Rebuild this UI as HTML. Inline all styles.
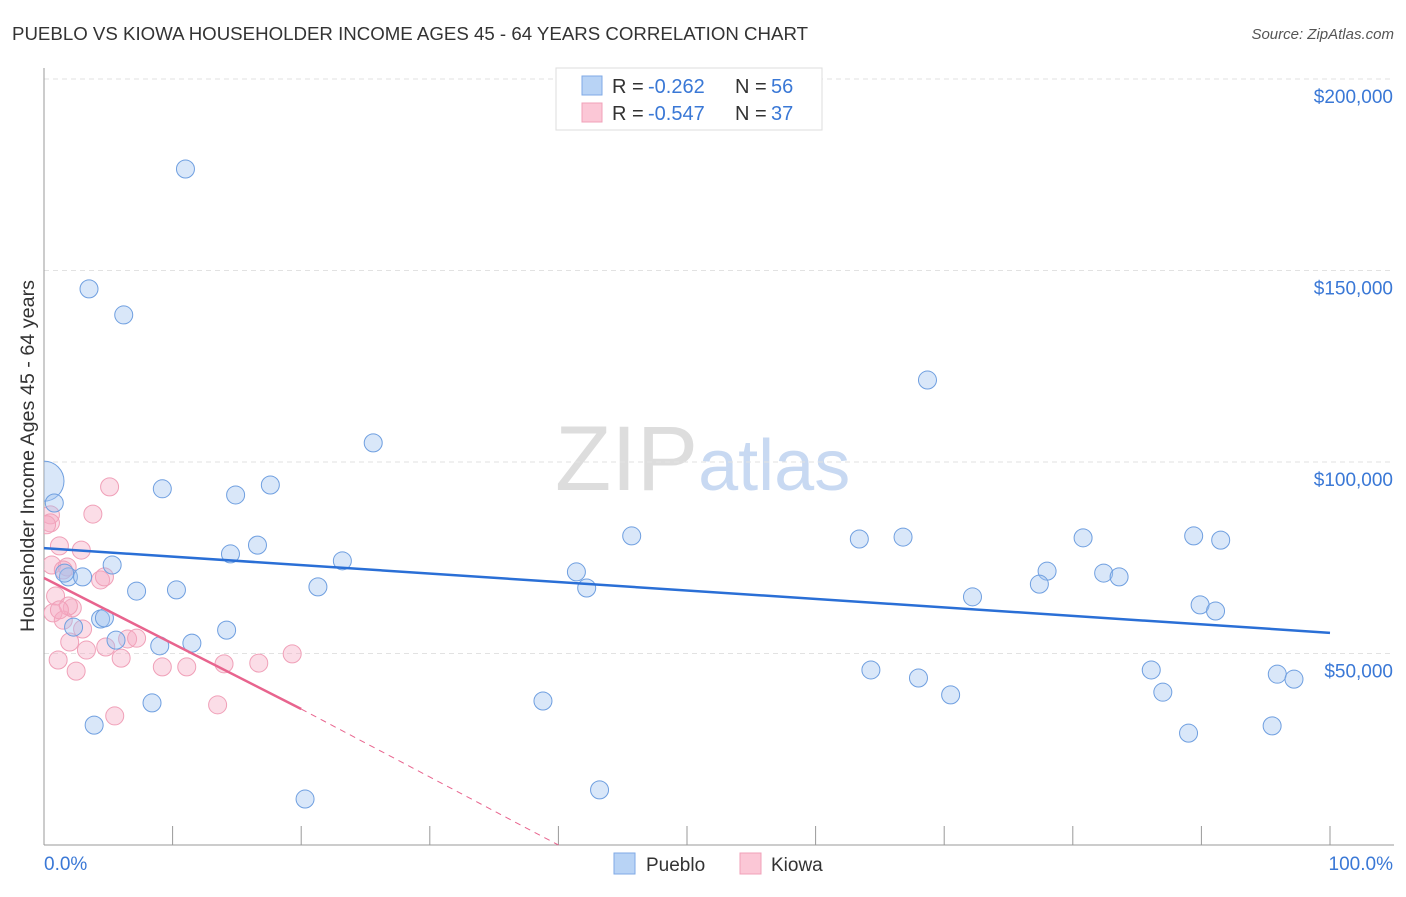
<!DOCTYPE html>
<html><head><meta charset="utf-8"><style>
body{margin:0;background:#fff;font-family:"Liberation Sans",sans-serif}
svg text{font-family:"Liberation Sans",sans-serif}
</style></head><body>
<svg id="chart" width="1406" height="892" xmlns="http://www.w3.org/2000/svg">
<defs><clipPath id="plotclip"><rect x="44" y="60" width="1360" height="785"/></clipPath></defs>
<text x="12" y="40" font-size="18" fill="#333" textLength="796" lengthAdjust="spacingAndGlyphs">PUEBLO VS KIOWA HOUSEHOLDER INCOME AGES 45 - 64 YEARS CORRELATION CHART</text>
<text x="1394" y="39" font-size="15" fill="#555" font-style="italic" text-anchor="end">Source: ZipAtlas.com</text>
<text x="555" y="490" font-size="92" fill="#ddd" font-family="Liberation Serif">ZIP<tspan fill="#c8d9f2" font-family="Liberation Sans" font-size="72">atlas</tspan></text>
<g id="grid"></g><g id="axes"></g><g id="pts" clip-path="url(#plotclip)"></g><g id="trend"></g>
<text transform="translate(34,456) rotate(-90)" font-size="19" fill="#333" text-anchor="middle" textLength="352" lengthAdjust="spacingAndGlyphs">Householder Income Ages 45 - 64 years</text>
<text x="44" y="870" font-size="19" fill="#3a78d6">0.0%</text>
<text x="1393" y="870" font-size="19" fill="#3a78d6" text-anchor="end">100.0%</text>
<g>
<rect x="556" y="68" width="266" height="62" fill="#fff" stroke="#ddd"/>
<rect x="582" y="76" width="20" height="19" fill="#b8d3f5" stroke="#7fa9e6"/>
<rect x="582" y="103" width="20" height="19" fill="#fbc7d6" stroke="#f0a0b8"/>
<text x="612" y="93" font-size="20" fill="#333">R =</text>
<text x="648" y="93" font-size="20" fill="#3a78d6">-0.262</text>
<text x="735" y="93" font-size="20" fill="#333">N =</text>
<text x="771" y="93" font-size="20" fill="#3a78d6">56</text>
<text x="612" y="120" font-size="20" fill="#333">R =</text>
<text x="648" y="120" font-size="20" fill="#3a78d6">-0.547</text>
<text x="735" y="120" font-size="20" fill="#333">N =</text>
<text x="771" y="120" font-size="20" fill="#3a78d6">37</text>
</g>
<g>
<rect x="614" y="853" width="21" height="21" fill="#b8d3f5" stroke="#7fa9e6"/>
<text x="646" y="871" font-size="19" fill="#333">Pueblo</text>
<rect x="740" y="853" width="21" height="21" fill="#fbc7d6" stroke="#f0a0b8"/>
<text x="771" y="871" font-size="19" fill="#333">Kiowa</text>
</g>
</svg>
<script>
const yTicks=[50000,100000,150000,200000];
const yTickLabels=["$50,000","$100,000","$150,000","$200,000"];
const puebloX=[0,0.8,11.0,3.5,6.2,25.6,68.7,9.2,14.9,17.6,1.9,3.0,5.3,14.5,16.6,23.2,7.2,10.3,21.3,4.4,4.7,2.3,5.6,9.0,11.5,14.2,8.4,3.9,20.3,38.8,43.2,45.7,41.4,42.2,63.4,66.8,72.2,78.0,77.4,80.8,82.4,83.6,89.4,91.5,89.9,91.1,64.3,68.0,70.5,86.1,87.0,89.0,95.9,97.2,95.5,1.6];
const puebloY=[95.0,89.3,176.5,145.2,138.4,105.0,121.4,93.0,91.4,94.0,70.0,70.0,73.1,76.0,78.3,74.2,66.3,66.6,67.4,59.0,59.3,56.9,53.5,52.0,52.7,56.1,37.1,31.3,12.0,37.6,14.4,80.7,71.3,67.1,79.9,80.4,64.8,71.5,68.1,80.2,71.0,70.0,80.7,79.6,62.7,61.1,45.7,43.6,39.2,45.7,39.9,29.2,44.6,43.3,31.1,71.0];
const kiowaX=[5.1,3.8,0.5,0.5,1.2,2.9,0.6,1.8,1.5,4.4,4.7,0.9,0.7,2.2,1.5,3.0,2.0,3.3,4.8,6.0,1.1,2.5,6.5,7.2,9.2,11.1,14.0,16.7,19.3,13.5,5.5,1.9,1.2,0.2];
const kiowaY=[93.5,86.4,86.2,84.1,78.1,77.0,73.1,72.6,71.8,69.2,70.0,65.0,60.6,61.9,58.7,56.4,53.0,50.9,51.7,48.8,48.3,45.4,53.8,54.0,46.5,46.5,47.3,47.5,49.9,36.6,33.7,62.4,61.4,83.6];
const puebloTrend=[77.5,55.4];
const kiowaTrend=[69.7,35.5,0];
const NS="http://www.w3.org/2000/svg";
const X=p=>44+p*12.86, Y=k=>845-k*1000*0.00383;
function mk(tag,attrs,parent){const e=document.createElementNS(NS,tag);for(const k in attrs)e.setAttribute(k,attrs[k]);document.getElementById(parent).appendChild(e);return e;}
yTicks.forEach((t,i)=>{
 const l=mk('line',{x1:44,x2:1394,y1:Y(t/1000),y2:Y(t/1000),stroke:'#e2e2e2','stroke-dasharray':'5,4'},'grid');
 
 
 const tx=mk('text',{x:1393,y:Y(t/1000)+24,'font-size':19,fill:'#3a78d6','text-anchor':'end'},'grid');
 tx.textContent=yTickLabels[i];
 
 
});
const ax=mk('line',{x1:44,x2:44,y1:68,y2:845,stroke:'#999'},'axes');


const bx=mk('line',{x1:44,x2:1394,y1:845,y2:845,stroke:'#999'},'axes');


for(let i=0;i<=10;i++){const t=mk('line',{x1:X(i*10),x2:X(i*10),y1:826,y2:845,stroke:'#999'},'axes');
 
 }
kiowaX.forEach((x,i)=>{const c=mk('circle',{cx:X(x),cy:Y(kiowaY[i]),r:9,fill:'rgba(246,170,195,0.4)',stroke:'#f0a0b8'},'pts');
 
 });
puebloX.forEach((x,i)=>{const c=mk('circle',{cx:X(x),cy:Y(puebloY[i]),r:i===0?20:9,fill:'rgba(160,196,240,0.4)',stroke:'#6f9fe0'},'pts');
 
 });
const pt=mk('line',{x1:X(0),y1:Y(puebloTrend[0]),x2:X(100),y2:Y(puebloTrend[1]),stroke:'#2a6fd6','stroke-width':2.5},'trend');


const kt=mk('line',{x1:X(0),y1:Y(kiowaTrend[0]),x2:X(20),y2:Y(kiowaTrend[1]),stroke:'#e8648e','stroke-width':2.5},'trend');


const kd=mk('line',{x1:X(20),y1:Y(kiowaTrend[1]),x2:X(40),y2:Y(kiowaTrend[2]),stroke:'#e8648e','stroke-width':1,'stroke-dasharray':'6,5'},'trend');


</script>
</body></html>
